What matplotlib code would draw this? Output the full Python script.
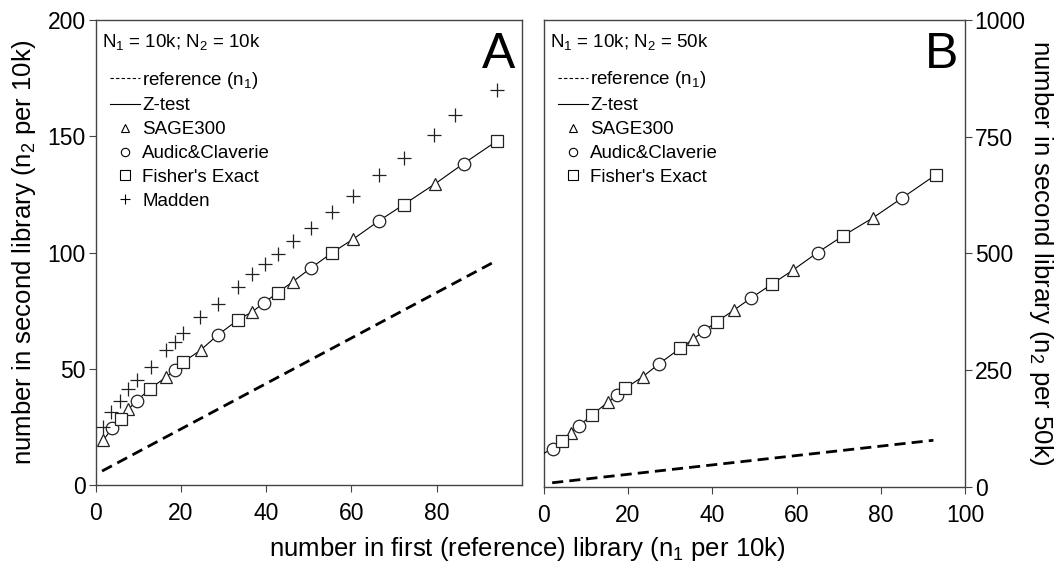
import matplotlib
matplotlib.use('Agg')
import matplotlib.pyplot as plt
from matplotlib.lines import Line2D

plt.rcParams['font.family'] = ['Liberation Sans', 'DejaVu Sans']
plt.rcParams['mathtext.fontset'] = 'custom'
plt.rcParams['mathtext.rm'] = 'Liberation Sans'
plt.rcParams['mathtext.it'] = 'Liberation Sans:italic'

# panel A: N1 = 10k, N2 = 10k
a_ref_x = [1.5, 94.0]
a_ref_y = [6.0, 96.5]
a_tri_x = [1.8, 7.6, 16.6, 24.6, 36.6, 46.2, 60.4, 79.7]
a_tri_y = [19.3, 32.5, 46.6, 58.0, 74.4, 87.4, 105.8, 129.7]
a_circ_x = [3.9, 9.6, 18.7, 28.6, 39.6, 50.5, 66.4, 86.3]
a_circ_y = [24.6, 36.2, 49.4, 64.5, 78.5, 93.4, 113.6, 138.3]
a_sq_x = [5.9, 12.7, 20.6, 33.5, 42.7, 55.5, 72.3, 94.1]
a_sq_y = [28.2, 41.3, 53.0, 71.2, 82.8, 100.0, 120.7, 148.0]
a_mad_x = [1.8, 3.7, 5.8, 7.6, 9.7, 12.9, 16.6, 18.6, 20.5, 24.5, 28.6, 33.5,
           36.6, 39.7, 42.7, 46.4, 50.5, 55.5, 60.4, 66.4, 72.3, 79.3, 84.2, 94.1]
a_mad_y = [25.0, 31.5, 36.2, 41.1, 45.1, 50.6, 58.3, 61.6, 65.2, 72.1, 77.7, 85.3,
           91.0, 95.3, 99.3, 105.0, 110.8, 117.5, 124.2, 133.3, 140.7, 150.8, 159.4, 169.8]

# panel B: N1 = 10k, N2 = 50k
b_ref_x = [2.0, 92.5]
b_ref_y = [9.0, 100.0]
b_tri_x = [6.5, 15.3, 23.5, 35.4, 45.2, 59.1, 78.1]
b_tri_y = [116, 182, 236, 316, 379, 464, 576]
b_circ_x = [2.1, 8.4, 17.5, 27.4, 38.0, 49.1, 65.0, 85.1]
b_circ_y = [82, 131, 196, 264, 334, 404, 502, 619]
b_sq_x = [4.4, 11.4, 19.3, 32.4, 41.1, 54.1, 71.1, 93.0]
b_sq_y = [98, 154, 211, 297, 354, 434, 538, 668]
b_z_start = (0.0, 72.0)


def zline(xs_list, ys_list, start=None):
    pts = []
    for xs, ys in zip(xs_list, ys_list):
        pts += list(zip(xs, ys))
    if start is not None:
        pts.append(start)
    pts.sort()
    return [p[0] for p in pts], [p[1] for p in pts]


fig = plt.figure(figsize=(10.55, 5.62), dpi=100)
axA = fig.add_axes([0.0907, 0.137, 0.404, 0.827])
axB = fig.add_axes([0.5154, 0.1335, 0.3993, 0.831])

mk = dict(linestyle='none', mfc='white', mec='#222222', mew=0.9, zorder=4)
edge = '#444444'


def draw(ax, ref_x, ref_y, tri, circ, sq, start=None):
    ax.plot(ref_x, ref_y, color='black', lw=2.0, dashes=(4, 2.2), zorder=2)
    zx, zy = zline([tri[0], circ[0], sq[0]], [tri[1], circ[1], sq[1]], start)
    ax.plot(zx, zy, color='black', lw=0.8, zorder=3)
    ax.plot(tri[0], tri[1], marker='^', ms=9, **mk)
    ax.plot(circ[0], circ[1], marker='o', ms=9, **mk)
    ax.plot(sq[0], sq[1], marker='s', ms=8.5, **mk)
    for s in ax.spines.values():
        s.set_color(edge)
        s.set_linewidth(1.0)
    ax.tick_params(direction='out', length=5, width=0.8, color=edge,
                   labelsize=16.5)
    ax.tick_params(axis='x', pad=7)
    ax.tick_params(axis='y', pad=2)


draw(axA, a_ref_x, a_ref_y, (a_tri_x, a_tri_y), (a_circ_x, a_circ_y), (a_sq_x, a_sq_y))
axA.plot(a_mad_x, a_mad_y, marker='+', ms=10, mew=0.9, color='#222222',
         linestyle='none', zorder=4)
axA.set_xlim(0, 100)
axA.set_ylim(0, 200)
axA.set_xticks([0, 20, 40, 60, 80])
axA.set_yticks([0, 50, 100, 150, 200])

draw(axB, b_ref_x, b_ref_y, (b_tri_x, b_tri_y), (b_circ_x, b_circ_y), (b_sq_x, b_sq_y),
     start=b_z_start)
axB.set_xlim(0, 100)
axB.set_ylim(0, 1000)
axB.set_xticks([0, 20, 40, 60, 80, 100])
axB.set_yticks([0, 250, 500, 750, 1000])
axB.yaxis.tick_right()

fig.text(0.5, 0.024, 'number in first (reference) library (n$_1$ per 10k)',
         ha='center', va='center', fontsize=18.5)
fig.text(0.023, 0.55, 'number in second library (n$_2$ per 10k)',
         ha='center', va='center', rotation=90, fontsize=18.5)
fig.text(0.9865, 0.55, 'number in second library (n$_2$ per 50k)',
         ha='center', va='center', rotation=270, fontsize=18.5)

for ax, letter, ntext in [(axA, 'A', 'N$_1$ = 10k; N$_2$ = 10k'),
                          (axB, 'B', 'N$_1$ = 10k; N$_2$ = 50k')]:
    ax.text(0.985, 0.975, letter, transform=ax.transAxes, ha='right', va='top',
            fontsize=36)
    ax.text(0.015, 0.975, ntext, transform=ax.transAxes, ha='left', va='top',
            fontsize=13.5)

lg = dict(linestyle='none', mfc='white', mec='black', mew=0.8)
handles = [Line2D([], [], color='black', lw=0.8, dashes=(3, 2)),
           Line2D([], [], color='black', lw=0.8),
           Line2D([], [], marker='^', ms=6, **lg),
           Line2D([], [], marker='o', ms=6, **lg),
           Line2D([], [], marker='s', ms=7, **lg)]
labels = ['reference (n$_1$)', 'Z-test', 'SAGE300', 'Audic&Claverie', "Fisher's Exact"]
leg_kw = dict(loc='upper left', bbox_to_anchor=(0.015, 0.91), frameon=False,
              fontsize=13.5, handlelength=1.6, handletextpad=0.15,
              labelspacing=0.36, borderaxespad=0.0)

axA.legend(handles + [Line2D([], [], marker='+', ms=7, mew=0.8, color='black',
                             linestyle='none')],
           labels + ['Madden'], **leg_kw)
axB.legend(handles, labels, **leg_kw)

fig.savefig('out.png', dpi=100)
